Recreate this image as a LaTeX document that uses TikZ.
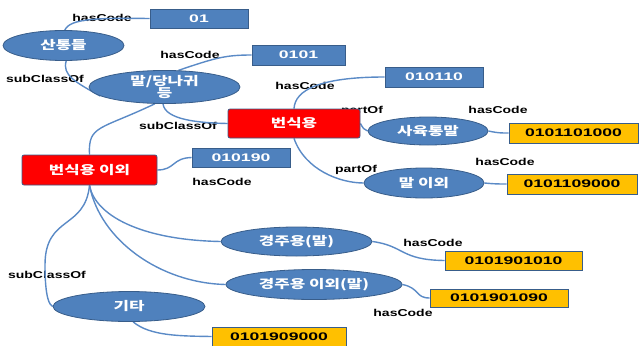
\documentclass[tikz,border=0pt]{standalone}
\usepackage{fontspec}
\usepackage{graphicx}
\setmainfont{Liberation Sans}
\newfontfamily\kor{Noto Sans CJK KR}
\usetikzlibrary{shapes.geometric,backgrounds}
\definecolor{nblue}{HTML}{4F81BD}
\definecolor{nborder}{HTML}{385D8A}
\definecolor{lblue}{HTML}{5A8AC6}
\definecolor{ygold}{HTML}{FFC000}
\newcommand{\hx}[2][1.4]{\scalebox{#1}[1]{#2}}
\tikzset{
  oval/.style={ellipse, fill=nblue, draw=nborder, line width=0.8pt, inner sep=0pt,
    text=white, font=\kor\fontsize{12}{12}\selectfont\bfseries, align=center},
  bbox/.style={rectangle, fill=nblue, draw=nborder, line width=0.8pt, inner sep=0pt,
    text=white, font=\fontsize{11}{12}\selectfont\bfseries},
  ybox/.style={rectangle, fill=ygold, draw=nborder, line width=0.8pt, inner sep=0pt,
    text=black, font=\fontsize{11}{12}\selectfont\bfseries},
  rbox/.style={rectangle, rounded corners=2pt,
    fill=red, draw=nborder, line width=0.8pt, inner sep=0pt,
    text=white, font=\kor\fontsize{12}{12}\selectfont\bfseries},
  lbl/.style={inner sep=0pt, text=black, font=\fontsize{10}{11}\selectfont\bfseries},
  conn/.style={draw=lblue, line width=1.4pt},
}
\begin{document}
\begin{tikzpicture}[x=1pt,y=-1pt]
\useasboundingbox (0,0) rectangle (644,345);
% nodes
\node[bbox, minimum width=98, minimum height=19] (c01) at (199,18.5) {\hx[1.6]{01}};
\node[oval, minimum width=121, minimum height=30] (e1) at (63.5,45.5) {\hx{산통들}};
\node[bbox, minimum width=93, minimum height=20] (c0101) at (298.5,55) {\hx[1.6]{0101}};
\node[oval, minimum width=151, minimum height=32] (e2) at (164.5,87) {\hx{말/당나귀}\\[-1pt]\hx{등}};
\node[bbox, minimum width=98, minimum height=20] (c010110) at (434,77) {\hx[1.6]{010110}};
\node[rbox, minimum width=132, minimum height=29] (r1) at (294,123.5) {\hx{번식용}};
\node[oval, minimum width=120, minimum height=28] (e3) at (428,131) {\hx{사육통말}};
\node[ybox, minimum width=129, minimum height=20] (y1) at (573.5,133) {\hx[1.6]{0101101000}};
\node[oval, minimum width=120, minimum height=30] (e4) at (424,183) {\hx{말 이외}};
\node[ybox, minimum width=130, minimum height=20] (y2) at (572,184) {\hx[1.6]{0101109000}};
\node[rbox, minimum width=135, minimum height=30] (r2) at (89.5,170) {\hx{번식용 이외}};
\node[bbox, minimum width=98, minimum height=19] (c010190) at (241,157.5) {\hx[1.6]{010190}};
\node[oval, minimum width=151, minimum height=29] (e5) at (296.5,241.5) {\hx{경주용(말)}};
\node[ybox, minimum width=137, minimum height=19] (y3) at (513.5,260.5) {\hx[1.6]{0101901010}};
\node[oval, minimum width=176, minimum height=30] (e6) at (314,284.5) {\hx{경주용 이외(말)}};
\node[ybox, minimum width=138, minimum height=18] (y4) at (499,298) {\hx[1.6]{0101901090}};
\node[oval, minimum width=152, minimum height=30] (e7) at (129,306.5) {\hx{기타}};
\node[ybox, minimum width=134, minimum height=19] (y5) at (279,336.5) {\hx[1.6]{0101909000}};
\begin{scope}[on background layer]
% labels placed behind boxes
\node[lbl] (l1) at (102,18) {\hx{hasCode}};
\node[lbl] (l2) at (190,55) {\hx{hasCode}};
\node[lbl] (l3) at (45,79) {\hx{subClassOf}};
\node[lbl] (l4) at (305,86) {\hx{hasCode}};
\node[lbl] (l5) at (178,126) {\hx{subClassOf}};
\node[lbl] (l6) at (362,111) {\hx{partOf}};
\node[lbl] (l7) at (498,110) {\hx{hasCode}};
\node[lbl] (l8) at (356,170) {\hx{partOf}};
\node[lbl] (l9) at (505,162) {\hx{hasCode}};
\node[lbl] (l10) at (222,182) {\hx{hasCode}};
\node[lbl] (l11) at (433,243) {\hx{hasCode}};
\node[lbl] (l12) at (403,313) {\hx{hasCode}};
\node[lbl] (l13) at (47,275) {\hx{subClassOf}};
% connectors
\draw[conn] (c01.west) .. controls (100,18) and (70,18) .. (e1.85);
\draw[conn] (e1.-80) .. controls (62,75) and (75,82) .. (e2.188);
\draw[conn] (c0101.west) .. controls (225,55) and (215,58) .. (e2.50);
\draw[conn] (e2.-95) .. controls (165,120) and (200,123) .. (r1.west);
\draw[conn] (e2.-120) .. controls (100,130) and (88,125) .. (r2.north);
\draw[conn] (c010110.west) .. controls (320,77) and (295,90) .. (r1.north);
\draw[conn] (r1.east) .. controls (363,128) and (364,130) .. (e3.west);
\draw[conn] (e3.east) .. controls (498,133) and (500,133) .. (y1.west);
\draw[conn] (r1.south) .. controls (305,170) and (340,183) .. (e4.west);
\draw[conn] (e4.east) .. controls (495,184) and (498,184) .. (y2.west);
\draw[conn] (r2.east) .. controls (175,170) and (172,158) .. (c010190.west);
\draw[conn] (r2.south) .. controls (95,215) and (140,240) .. (e5.west);
\draw[conn] (r2.south) .. controls (100,240) and (160,283) .. (e6.west);
\draw[conn] (r2.south) .. controls (85,230) and (45,215) .. (45,265) .. controls (45,300) and (50,305) .. (e7.west);
\draw[conn] (e5.east) .. controls (405,246) and (400,260) .. (y3.west);
\draw[conn] (e6.east) .. controls (420,288) and (415,298) .. (y4.west);
\draw[conn] (e7.-75) .. controls (150,336) and (180,336) .. (y5.west);
\end{scope}
\end{tikzpicture}
\end{document}
